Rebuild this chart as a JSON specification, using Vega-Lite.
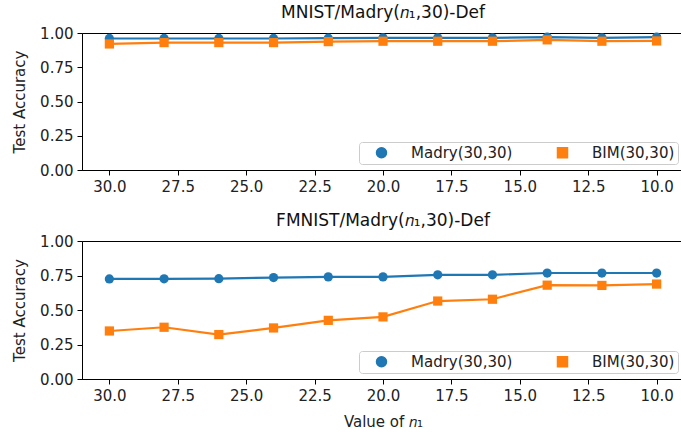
{
  "$schema": "https://vega.github.io/schema/vega-lite/v6.json",
  "background": "white",
  "padding": {"left": 12, "top": 3, "right": 0, "bottom": 4},
  "config": {
    "font": "DejaVu Sans",
    "view": {"stroke": "black", "strokeWidth": 1},
    "axis": {"labelFont": "DejaVu Sans", "titleFont": "DejaVu Sans", "labelFontSize": 15, "titleFontSize": 15, "titleFontWeight": "normal", "labelColor": "#222", "titleColor": "#222", "grid": false, "domainColor": "black", "tickColor": "black", "tickSize": 5, "labelPadding": 4},
    "title": {"font": "DejaVu Sans", "fontSize": 17, "fontWeight": "normal", "color": "#111", "offset": 4},
    "legend": {"labelFont": "DejaVu Sans", "labelFontSize": 15, "labelColor": "#222", "orient": "bottom-right", "direction": "horizontal", "strokeColor": "#cccccc", "fillColor": "white", "padding": 3, "cornerRadius": 3, "offset": 6, "symbolSize": 100, "symbolOffset": 12, "labelOffset": 22, "columnPadding": 30}
  },
  "datasets": {
    "acc": [
      {"panel": "MNIST", "n1": 30, "series": "Madry(30,30)", "acc": 0.960},
      {"panel": "MNIST", "n1": 28, "series": "Madry(30,30)", "acc": 0.960},
      {"panel": "MNIST", "n1": 26, "series": "Madry(30,30)", "acc": 0.960},
      {"panel": "MNIST", "n1": 24, "series": "Madry(30,30)", "acc": 0.960},
      {"panel": "MNIST", "n1": 22, "series": "Madry(30,30)", "acc": 0.962},
      {"panel": "MNIST", "n1": 20, "series": "Madry(30,30)", "acc": 0.965},
      {"panel": "MNIST", "n1": 18, "series": "Madry(30,30)", "acc": 0.965},
      {"panel": "MNIST", "n1": 16, "series": "Madry(30,30)", "acc": 0.965},
      {"panel": "MNIST", "n1": 14, "series": "Madry(30,30)", "acc": 0.970},
      {"panel": "MNIST", "n1": 12, "series": "Madry(30,30)", "acc": 0.965},
      {"panel": "MNIST", "n1": 10, "series": "Madry(30,30)", "acc": 0.970},
      {"panel": "MNIST", "n1": 30, "series": "BIM(30,30)", "acc": 0.920},
      {"panel": "MNIST", "n1": 28, "series": "BIM(30,30)", "acc": 0.930},
      {"panel": "MNIST", "n1": 26, "series": "BIM(30,30)", "acc": 0.930},
      {"panel": "MNIST", "n1": 24, "series": "BIM(30,30)", "acc": 0.930},
      {"panel": "MNIST", "n1": 22, "series": "BIM(30,30)", "acc": 0.937},
      {"panel": "MNIST", "n1": 20, "series": "BIM(30,30)", "acc": 0.940},
      {"panel": "MNIST", "n1": 18, "series": "BIM(30,30)", "acc": 0.940},
      {"panel": "MNIST", "n1": 16, "series": "BIM(30,30)", "acc": 0.940},
      {"panel": "MNIST", "n1": 14, "series": "BIM(30,30)", "acc": 0.950},
      {"panel": "MNIST", "n1": 12, "series": "BIM(30,30)", "acc": 0.940},
      {"panel": "MNIST", "n1": 10, "series": "BIM(30,30)", "acc": 0.942},
      {"panel": "FMNIST", "n1": 30, "series": "Madry(30,30)", "acc": 0.725},
      {"panel": "FMNIST", "n1": 28, "series": "Madry(30,30)", "acc": 0.726},
      {"panel": "FMNIST", "n1": 26, "series": "Madry(30,30)", "acc": 0.727},
      {"panel": "FMNIST", "n1": 24, "series": "Madry(30,30)", "acc": 0.735},
      {"panel": "FMNIST", "n1": 22, "series": "Madry(30,30)", "acc": 0.740},
      {"panel": "FMNIST", "n1": 20, "series": "Madry(30,30)", "acc": 0.740},
      {"panel": "FMNIST", "n1": 18, "series": "Madry(30,30)", "acc": 0.755},
      {"panel": "FMNIST", "n1": 16, "series": "Madry(30,30)", "acc": 0.755},
      {"panel": "FMNIST", "n1": 14, "series": "Madry(30,30)", "acc": 0.768},
      {"panel": "FMNIST", "n1": 12, "series": "Madry(30,30)", "acc": 0.768},
      {"panel": "FMNIST", "n1": 10, "series": "Madry(30,30)", "acc": 0.768},
      {"panel": "FMNIST", "n1": 30, "series": "BIM(30,30)", "acc": 0.348},
      {"panel": "FMNIST", "n1": 28, "series": "BIM(30,30)", "acc": 0.375},
      {"panel": "FMNIST", "n1": 26, "series": "BIM(30,30)", "acc": 0.322},
      {"panel": "FMNIST", "n1": 24, "series": "BIM(30,30)", "acc": 0.370},
      {"panel": "FMNIST", "n1": 22, "series": "BIM(30,30)", "acc": 0.425},
      {"panel": "FMNIST", "n1": 20, "series": "BIM(30,30)", "acc": 0.450},
      {"panel": "FMNIST", "n1": 18, "series": "BIM(30,30)", "acc": 0.565},
      {"panel": "FMNIST", "n1": 16, "series": "BIM(30,30)", "acc": 0.578},
      {"panel": "FMNIST", "n1": 14, "series": "BIM(30,30)", "acc": 0.680},
      {"panel": "FMNIST", "n1": 12, "series": "BIM(30,30)", "acc": 0.678},
      {"panel": "FMNIST", "n1": 10, "series": "BIM(30,30)", "acc": 0.688}
    ]
  },
  "spacing": 16,
  "resolve": {"legend": {"color": "independent", "shape": "independent"}},
  "vconcat": [
    {
      "title": "MNIST/Madry(𝑛₁,30)-Def",
      "width": 602,
      "height": 137,
      "data": {"name": "acc"},
      "transform": [{"filter": "datum.panel === 'MNIST'"}],
      "encoding": {
        "x": {"field": "n1", "type": "quantitative", "title": null, "scale": {"domain": [31, 9], "nice": false, "zero": false}, "axis": {"values": [30, 27.5, 25, 22.5, 20, 17.5, 15, 12.5, 10], "format": ".1f"}},
        "y": {"field": "acc", "type": "quantitative", "title": "Test Accuracy", "scale": {"domain": [0, 1], "nice": false}, "axis": {"values": [0, 0.25, 0.5, 0.75, 1], "format": ".2f", "titlePadding": 12}},
        "color": {"field": "series", "type": "nominal", "scale": {"domain": ["Madry(30,30)", "BIM(30,30)"], "range": ["#1f77b4", "#ff7f0e"]}, "legend": {"title": null}},
        "shape": {"field": "series", "type": "nominal", "scale": {"domain": ["Madry(30,30)", "BIM(30,30)"], "range": ["circle", "square"]}, "legend": {"title": null}}
      },
      "layer": [
        {"mark": {"type": "line", "strokeWidth": 2.2}, "encoding": {"shape": {"value": "circle"}}},
        {"mark": {"type": "point", "filled": true, "opacity": 1, "size": 85}}
      ]
    },
    {
      "title": "FMNIST/Madry(𝑛₁,30)-Def",
      "width": 602,
      "height": 138,
      "data": {"name": "acc"},
      "transform": [{"filter": "datum.panel === 'FMNIST'"}],
      "encoding": {
        "x": {"field": "n1", "type": "quantitative", "title": "Value of 𝑛₁", "scale": {"domain": [31, 9], "nice": false, "zero": false}, "axis": {"values": [30, 27.5, 25, 22.5, 20, 17.5, 15, 12.5, 10], "format": ".1f", "titlePadding": 11}},
        "y": {"field": "acc", "type": "quantitative", "title": "Test Accuracy", "scale": {"domain": [0, 1], "nice": false}, "axis": {"values": [0, 0.25, 0.5, 0.75, 1], "format": ".2f", "titlePadding": 12}},
        "color": {"field": "series", "type": "nominal", "scale": {"domain": ["Madry(30,30)", "BIM(30,30)"], "range": ["#1f77b4", "#ff7f0e"]}, "legend": {"title": null}},
        "shape": {"field": "series", "type": "nominal", "scale": {"domain": ["Madry(30,30)", "BIM(30,30)"], "range": ["circle", "square"]}, "legend": {"title": null}}
      },
      "layer": [
        {"mark": {"type": "line", "strokeWidth": 2.2}, "encoding": {"shape": {"value": "circle"}}},
        {"mark": {"type": "point", "filled": true, "opacity": 1, "size": 85}}
      ]
    }
  ]
}
